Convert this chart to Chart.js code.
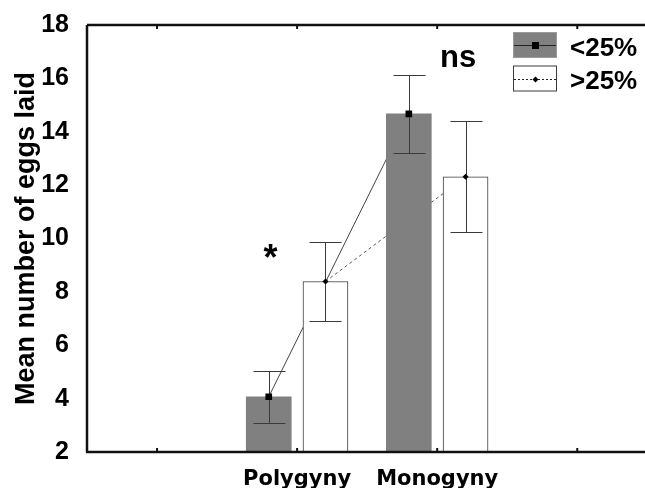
<!DOCTYPE html>
<html>
<head>
<meta charset="utf-8">
<script src="https://cdn.jsdelivr.net/npm/chart.js@4.4.1/dist/chart.umd.min.js"></script>
<style>
  html, body { margin: 0; padding: 0; overflow: hidden; background: #fff; }
  canvas { display: block; }
</style>
</head>
<body>
<canvas id="eggsChart" width="652" height="488"></canvas>
<script>
/////////////////////////////// DATA ///////////////////////////////
const categories = ["Polygyny", "Monogyny"];

// <25% (grey bars, solid line)
const lowMeans = [4.07, 14.67];
const lowUpper = [5.03, 16.13];
const lowLower = [3.10, 13.19];

// >25% (white bars, dashed line)
const highMeans = [8.39, 12.31];
const highUpper = [9.86, 14.41];
const highLower = [6.90, 10.24];

const seriesNames = ["<25%", ">25%"];
const yMin = 2, yMax = 18, yStep = 2;

/////////////////////////////// COLORS ///////////////////////////////
const c_grey = "#808080";
const c_white = "#ffffff";
const c_edge = "#3a3a3a";
const c_axis = "#111111";

const off = 0.2025;   // bar centre relative to the category centre, in category units

// category axis has an empty slot on each side
const axisLabels = ["", ...categories, ""];
const atBar = (arr, sign) => arr.map((v, i) => ({ x: i + 1 + sign * off, y: v }));

// error bars drawn right after each bar dataset
const errorBars = {
    id: "errorBars",
    afterDatasetDraw(chart, args) {
        const ds = chart.data.datasets[args.index];
        if (!ds.errUpper) return;
        const y = chart.scales.y;
        const ctx = chart.ctx;
        ctx.save();
        ctx.strokeStyle = c_edge;
        ctx.lineWidth = 1;
        args.meta.data.forEach((el, i) => {
            const top = Math.round(y.getPixelForValue(ds.errUpper[i])) + 0.5;
            const bot = Math.round(y.getPixelForValue(ds.errLower[i])) + 0.5;
            const x = Math.round(el.x) + 0.5;
            ctx.beginPath();
            ctx.moveTo(x, top); ctx.lineTo(x, bot);
            ctx.moveTo(x - 16, top); ctx.lineTo(x + 16, top);
            ctx.moveTo(x - 16, bot); ctx.lineTo(x + 16, bot);
            ctx.stroke();
        });
        ctx.restore();
    }
};

// frame, inward tick marks, annotations and legend
const decorations = {
    id: "decorations",
    afterDatasetsDraw(chart) {
        const { ctx, chartArea: a, scales } = chart;
        ctx.save();
        ctx.strokeStyle = c_axis;
        ctx.lineWidth = 2.5;
        ctx.beginPath();
        ctx.moveTo(a.left, a.top); ctx.lineTo(a.right, a.top);
        ctx.moveTo(a.left, a.top); ctx.lineTo(a.left, a.bottom);
        ctx.moveTo(a.left - 1, a.bottom); ctx.lineTo(a.right, a.bottom);
        ctx.stroke();

        ctx.lineWidth = 2;
        ctx.beginPath();
        scales.x.ticks.forEach((t, i) => {
            const px = scales.x.getPixelForTick(i);
            ctx.moveTo(px, a.bottom); ctx.lineTo(px, a.bottom - 4);
            ctx.moveTo(px, a.top); ctx.lineTo(px, a.top + 4);
        });
        ctx.stroke();

        // significance marks
        ctx.fillStyle = "#000";
        ctx.textAlign = "center";
        ctx.textBaseline = "alphabetic";
        ctx.font = "bold 36px 'Liberation Sans', Arial, sans-serif";
        let m = ctx.measureText("*");
        ctx.fillText("*", 270.5, 251 + (m.actualBoundingBoxAscent - m.actualBoundingBoxDescent) / 2);
        ctx.font = "bold 31px 'Liberation Sans', Arial, sans-serif";
        ctx.textAlign = "left";
        ctx.fillText("ns", 440, 66.5);

        // legend
        const lx = 513, lw = 44, lh = 26;
        const rows = [
            { y: 32, fill: c_grey, stroke: "#9a9a9a", dash: [], style: "rect" },
            { y: 65.5, fill: c_white, stroke: c_edge, dash: [2, 2], style: "diamond" }
        ];
        rows.forEach((r, i) => {
            ctx.fillStyle = r.fill;
            ctx.fillRect(lx, r.y, lw, lh);
            ctx.lineWidth = 1;
            ctx.strokeStyle = r.stroke;
            ctx.setLineDash([]);
            ctx.strokeRect(lx + 0.5, r.y + 0.5, lw - 1, lh - 1);
            const cy = Math.round(r.y + lh / 2) + 0.5;
            ctx.strokeStyle = "#222";
            ctx.setLineDash(r.dash);
            ctx.beginPath();
            ctx.moveTo(lx + 1, cy); ctx.lineTo(lx + lw - 1, cy);
            ctx.stroke();
            ctx.setLineDash([]);
            ctx.fillStyle = "#000";
            const cx = lx + lw / 2 + 0.5;
            if (r.style === "rect") {
                ctx.fillRect(cx - 3.5, cy - 3.5, 7, 7);
            } else {
                ctx.beginPath();
                ctx.moveTo(cx - 3, cy); ctx.lineTo(cx, cy - 3);
                ctx.lineTo(cx + 3, cy); ctx.lineTo(cx, cy + 3);
                ctx.closePath(); ctx.fill();
            }
            ctx.font = "bold 26px 'Liberation Sans', Arial, sans-serif";
            ctx.textAlign = "left";
            ctx.fillText(seriesNames[i], 570, r.y + 23.5);
        });
        ctx.restore();
    }
};

/////////////////////////////// CREATE CHART ///////////////////////////////
const ctx = document.getElementById("eggsChart").getContext("2d");
const eggsChart = new Chart(ctx, {
    type: "bar",
    data: {
        labels: axisLabels,
        datasets: [
            // connecting lines, behind the bars
            { type: "line", label: "low line", xAxisID: "xl", data: atBar(lowMeans, -1),
              borderColor: "#444", borderWidth: 1, pointRadius: 0, order: 3 },
            { type: "line", label: "high line", xAxisID: "xl", data: atBar(highMeans, 1),
              borderColor: "#555", borderWidth: 1, borderDash: [3, 3], pointRadius: 0, order: 3 },
            // bars
            { label: seriesNames[0], xAxisID: "xl", data: atBar(lowMeans, -1), backgroundColor: c_grey,
              borderWidth: 0, errUpper: lowUpper, errLower: lowLower, order: 2 },
            { label: seriesNames[1], xAxisID: "xl", data: atBar(highMeans, 1), backgroundColor: c_white,
              borderColor: c_edge, borderWidth: 1, errUpper: highUpper, errLower: highLower, order: 2 },
            // markers, on top
            { type: "line", label: "low mean", xAxisID: "xl", data: atBar(lowMeans, -1), showLine: false,
              pointStyle: "rect", pointRadius: 4.7, pointBorderWidth: 0, pointBackgroundColor: "#000", order: 0 },
            { type: "line", label: "high mean", xAxisID: "xl", data: atBar(highMeans, 1), showLine: false,
              pointStyle: "rectRot", pointRadius: 3, pointBorderWidth: 0, pointBackgroundColor: "#000", order: 0 }
        ]
    },
    options: {
        responsive: false,
        animation: false,
        devicePixelRatio: 1,
        layout: { padding: { top: 24, right: 1, left: 0, bottom: 0 } },
        datasets: { bar: { grouped: false, barThickness: 45 } },
        plugins: { legend: { display: false }, tooltip: { enabled: false } },
        scales: {
            x: {
                type: "category",
                offset: true,
                grid: { display: false },
                border: { display: false },
                ticks: {
                    color: "#000",
                    padding: 7,
                    maxRotation: 0,
                    autoSkip: false,
                    font: { family: "'DejaVu Sans'", weight: "bold", size: 21 }
                },
                afterFit(s) { s.height = 36; }
            },
            xl: {
                type: "linear",
                display: false,
                offset: false,
                min: -0.5,
                max: axisLabels.length - 0.5
            },
            y: {
                min: yMin,
                max: yMax,
                grid: { display: false },
                border: { display: false },
                ticks: {
                    stepSize: yStep,
                    color: "#000",
                    padding: 10,
                    font: { family: "'Liberation Sans', Arial", weight: "bold", size: 25 }
                },
                title: {
                    display: true,
                    text: "Mean number of eggs laid",
                    color: "#000",
                    padding: { top: 10, bottom: 0 },
                    font: { family: "'Liberation Sans', Arial", weight: "bold", size: 27 }
                },
                afterFit(s) { s.width = 87; }
            }
        }
    },
    plugins: [errorBars, decorations]
});
</script>
</body>
</html>
